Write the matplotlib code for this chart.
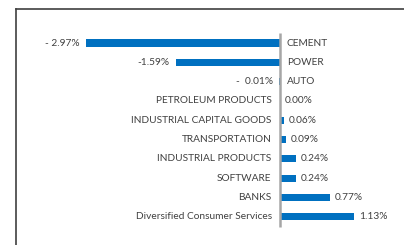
import matplotlib.pyplot as plt

categories = ["CEMENT", "POWER", "AUTO", "PETROLEUM PRODUCTS", "INDUSTRIAL CAPITAL GOODS",
              "TRANSPORTATION", "INDUSTRIAL PRODUCTS", "SOFTWARE", "BANKS",
              "Diversified Consumer Services"]
values = [-2.97, -1.59, -0.01, 0.00, 0.06, 0.09, 0.24, 0.24, 0.77, 1.13]
value_labels = ["- 2.97%", "-1.59%", "-  0.01%", "0.00%", "0.06%", "0.09%", "0.24%",
                "0.24%", "0.77%", "1.13%"]

plt.rcParams["font.family"] = ["Lato", "DejaVu Sans"]

fig = plt.figure(figsize=(4.04, 2.45), dpi=100)
ax = fig.add_axes([0, 0, 1, 1])
ax.axis("off")

# scale: 0 at x=280px, ~65.4 px per percentage point
scale = 65.4
ax.set_xlim(-280 / scale, (404 - 280) / scale)
ax.set_ylim((245 - 43) / 19.3, -43 / 19.3)

pos = list(range(len(categories)))
ax.barh(pos, values, height=0.37, color="#0070C0")
ax.vlines(0, -0.52, len(categories) - 0.47, color="#A6A6A6", linewidth=1.8)

text_color = "#404040"
fs = 7.3
for i, (cat, v, lab) in enumerate(zip(categories, values, value_labels)):
    if v < 0:
        ax.annotate(lab, (v, i), xytext=(-4.5, 0), textcoords="offset points",
                    ha="right", va="center", fontsize=fs, color=text_color)
        ax.annotate(cat, (0, i), xytext=(5, 0), textcoords="offset points",
                    ha="left", va="center", fontsize=fs, color=text_color)
    else:
        ax.annotate(cat, (0, i), xytext=(-6, 0), textcoords="offset points",
                    ha="right", va="center", fontsize=fs, color=text_color)
        ax.annotate(lab, (v, i), xytext=(3.5, 0), textcoords="offset points",
                    ha="left", va="center", fontsize=fs, color=text_color)

# outer frame (left and top edges visible)
fig.add_artist(plt.Line2D([16 / 404, 16 / 404], [0, 1 - 9 / 245], color="#404040", linewidth=1.2))
fig.add_artist(plt.Line2D([16 / 404, 1], [1 - 9 / 245, 1 - 9 / 245], color="#404040", linewidth=1.2))

fig.savefig("out.png", dpi=100)
